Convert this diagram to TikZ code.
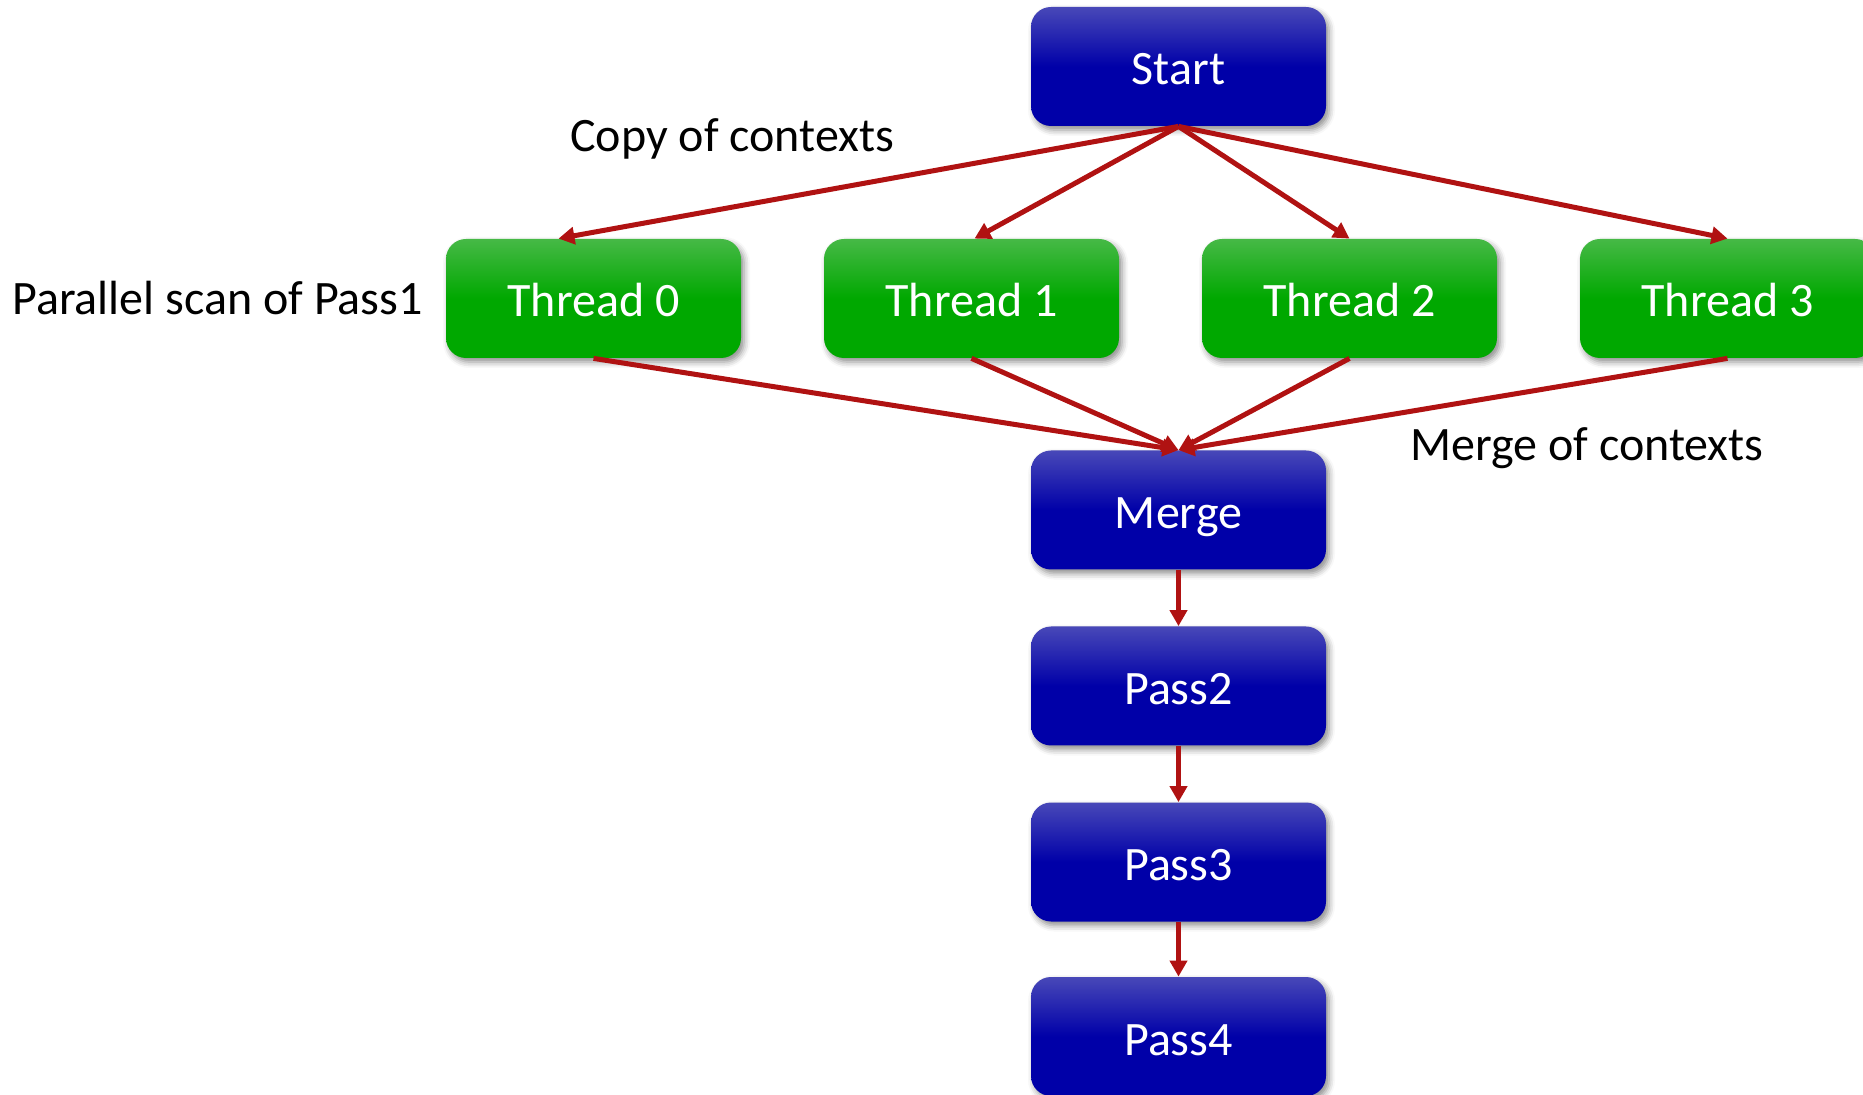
\documentclass[tikz,border=0pt]{standalone}
\usepackage{fontspec}
\setmainfont{Carlito}
\usetikzlibrary{arrows.meta,calc,shadows.blur}
\definecolor{arr}{RGB}{176,18,18}
\definecolor{blueT}{RGB}{72,72,184}
\definecolor{blueB}{RGB}{0,0,168}
\definecolor{greenT}{RGB}{70,185,70}
\definecolor{greenB}{RGB}{0,168,0}
\tikzset{
 box/.style={rounded corners=10pt, minimum width=147.5pt, minimum height=59.5pt, inner sep=0pt, text=white, font=\fontsize{24}{29}\selectfont, text height=18.5pt, text depth=0pt, blur shadow={shadow xshift=1.5pt, shadow yshift=-2pt, shadow blur radius=3pt, shadow opacity=45}},
 bluebox/.style={box, top color=blueT, bottom color=blueB, middle color=blueB},
 greenbox/.style={box, top color=greenT, bottom color=greenB, middle color=greenB},
 conn/.style={draw=arr, line width=2.5pt, -{Triangle[length=8pt,width=8.5pt]}},
 lbl/.style={anchor=base west, inner sep=0pt, font=\fontsize{24}{29}\selectfont}
}
\begin{document}
\begin{tikzpicture}[x=0.5pt,y=-0.5pt]
\useasboundingbox (0,0) rectangle (1863,1095);
\node[bluebox] (start) at (1178.5,66.5) {Start};
\node[greenbox] (t0) at (593.5,298.5) {Thread 0};
\node[greenbox] (t1) at (971.5,298.5) {Thread 1};
\node[greenbox] (t2) at (1349.5,298.5) {Thread 2};
\node[greenbox] (t3) at (1727.5,298.5) {Thread 3};
\node[bluebox] (merge) at (1178.5,510) {Merge};
\node[bluebox] (p2) at (1178.5,686) {Pass2};
\node[bluebox] (p3) at (1178.5,862) {Pass3};
\node[bluebox] (p4) at (1178.5,1036.5) {Pass4};
\node[lbl] (l1) at (570,152) {Copy of contexts};
\node[lbl] (l2) at (12,315) {Parallel scan of Pass1};
\node[lbl] (l3) at (1410,461) {Merge of contexts};
\draw[conn] (start.south) -- ($(t0.north)+(-35,0)$);
\draw[conn] (start.south) -- ($(t1.north)+(3,0)$);
\draw[conn] (start.south) -- (t2.north);
\draw[conn] (start.south) -- (t3.north);
\draw[conn] (t0.south) -- (merge.north);
\draw[conn] (t1.south) -- (merge.north);
\draw[conn] (t2.south) -- (merge.north);
\draw[conn] (t3.south) -- (merge.north);
\draw[conn] (merge) -- (p2);
\draw[conn] (p2) -- (p3);
\draw[conn] (p3) -- (p4);
\end{tikzpicture}
\end{document}
